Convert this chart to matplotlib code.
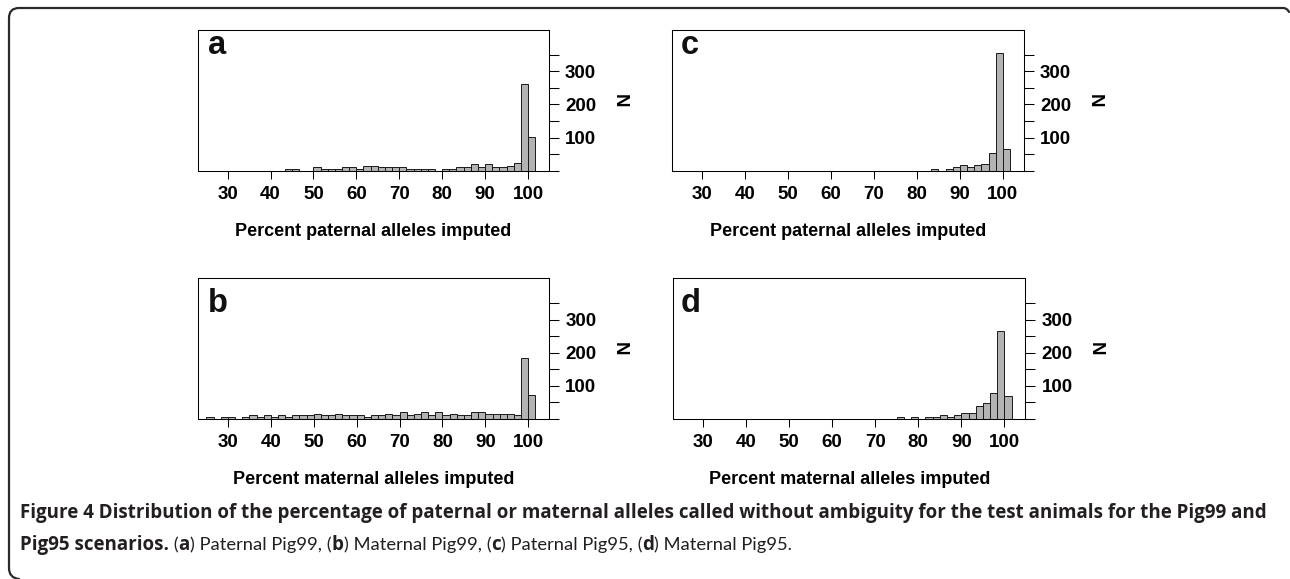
import matplotlib
matplotlib.use("Agg")
import matplotlib.pyplot as plt
import numpy as np
from matplotlib.path import Path
from matplotlib.patches import PathPatch

# ---------------- data ----------------
BIN_START = 25.0
BIN_WIDTH = 5.0 / 3.0
x_ticks = [30, 40, 50, 60, 70, 80, 90, 100]
y_ticks = [0, 50, 100, 150, 200, 250, 300, 350]
y_tick_labels = ["", "", "100", "", "200", "", "300", ""]

# counts per bin (46 bins from 25 to 101.67, width 5/3)
counts_a = [0, 0, 0, 0, 0, 0, 0, 0, 0, 0, 0, 5, 5, 0, 0, 10, 5, 5, 5, 10, 10, 5, 15,
            15, 10, 10, 10, 10, 5, 5, 5, 5, 0, 5, 5, 10, 10, 20, 10, 20, 10, 10, 15,
            24, 262, 102]
counts_b = [5, 0, 5, 5, 0, 5, 10, 5, 10, 5, 10, 5, 10, 10, 10, 15, 10, 10, 15, 10, 10,
            10, 5, 10, 10, 15, 10, 20, 10, 15, 20, 10, 20, 10, 15, 10, 10, 20, 20, 15,
            15, 15, 15, 10, 185, 73]
counts_c = [0] * 35 + [5, 0, 5, 10, 16, 10, 16, 20, 53, 357, 67]
counts_d = [0] * 30 + [5, 0, 5, 0, 5, 5, 10, 5, 10, 16, 16, 39, 49, 77, 266, 68]

letters = ["a", "c", "b", "d"]
xlabels = ["Percent paternal alleles imputed", "Percent paternal alleles imputed",
           "Percent maternal alleles imputed", "Percent maternal alleles imputed"]
ylabel = "N"

caption_line1 = ("Figure 4 Distribution of the percentage of paternal or maternal alleles "
                 "called without ambiguity for the test animals for the Pig99 and")
caption_line2 = [("Pig95 scenarios.", "bold"), (" (", "normal"), ("a", "bold"),
                 (") Paternal Pig99, (", "normal"), ("b", "bold"),
                 (") Maternal Pig99, (", "normal"), ("c", "bold"),
                 (") Paternal Pig95, (", "normal"), ("d", "bold"),
                 (") Maternal Pig95.", "normal")]

# ---------------- layout ----------------
W, H = 1290, 579
fig = plt.figure(figsize=(W / 100, H / 100), dpi=100)
fig.patch.set_facecolor("white")
FONT = ["Liberation Sans", "DejaVu Sans"]
CAP_BOLD_FONT = ["Open Sans", "DejaVu Sans"]
CAP_REG_FONT = ["Lato", "Open Sans", "DejaVu Sans"]
CAP_COLOR = "#231f20"


def fx(x):
    return x / W


def fy(y):
    return 1 - y / H


panels = [
    ((198.0, 30.0, 549.0, 170.7), counts_a, (208.0, 54.0), 236.5),
    ((672.3, 30.0, 1024.0, 170.7), counts_c, (681.0, 54.0), 236.5),
    ((198.3, 278.3, 549.3, 418.7), counts_b, (208.3, 312.0), 484.5),
    ((673.3, 278.3, 1025.5, 418.7), counts_d, (680.7, 312.0), 484.5),
]

for i, (rect, counts, lpos, xl_y) in enumerate(panels):
    l, t, r, b = rect
    ax = fig.add_axes([fx(l), fy(b), (r - l) / W, (b - t) / H])
    lefts = BIN_START + BIN_WIDTH * np.arange(len(counts))
    ax.bar(lefts, counts, width=BIN_WIDTH, align="edge", color="#b3b3b3",
           edgecolor="#1a1a1a", linewidth=0.7)
    ax.set_xlim(23.1, 104.9)
    ax.set_ylim(0, 425)
    ax.set_xticks(x_ticks)
    ax.set_xticklabels([str(v) for v in x_ticks], fontweight="bold", fontsize=13.5,
                       family=FONT)
    ax.yaxis.tick_right()
    ax.set_yticks(y_ticks)
    ax.set_yticklabels(y_tick_labels, fontweight="bold", fontsize=13.5, family=FONT)
    ax.tick_params(axis="x", direction="out", length=6, width=0.75, pad=5.0,
                   colors="black")
    ax.tick_params(axis="y", direction="out", length=7.2, width=0.75, pad=4.3,
                   right=True, left=False, labelright=True, labelleft=False)
    for s in ax.spines.values():
        s.set_linewidth(0.75)
        s.set_color("black")
    # panel letter
    fig.text(fx(lpos[0]), fy(lpos[1]), letters[i], fontsize=23.5, fontweight="bold",
             family=FONT, ha="left", va="baseline", color="#111111")
    # N label
    fig.text(fx(r + 70), fy((t + b) / 2), ylabel, fontsize=13.5, fontweight="bold",
             family=FONT, rotation=270, ha="center", va="center")
    # x label
    fig.text(fx((l + r) / 2), fy(xl_y), xlabels[i], fontsize=13, fontweight="bold",
             family=FONT, ha="center", va="baseline")

# ---------------- frame ----------------
verts = [(1289, 12), (1287, 8), (1283, 8), (19, 8), (9, 8), (9, 18),
         (9, 568), (9, 578), (19, 579)]
codes = [Path.MOVETO, Path.CURVE3, Path.CURVE3, Path.LINETO, Path.CURVE3, Path.CURVE3,
         Path.LINETO, Path.CURVE3, Path.CURVE3]
frame = PathPatch(Path([(fx(x), fy(y)) for x, y in verts], codes),
                  transform=fig.transFigure, fill=False, edgecolor="#2a2a2a",
                  linewidth=1.6, capstyle="round", joinstyle="round")
fig.add_artist(frame)

# ---------------- caption ----------------
renderer = fig.canvas.get_renderer()


def fam(weight):
    return CAP_BOLD_FONT if weight == "bold" else CAP_REG_FONT


def text_width(s, size, weight):
    t1 = fig.text(0, 0, "|" + s + "|", fontsize=size, fontweight=weight, family=fam(weight))
    t2 = fig.text(0, 0, "||", fontsize=size, fontweight=weight, family=fam(weight))
    w = t1.get_window_extent(renderer).width - t2.get_window_extent(renderer).width
    t1.remove()
    t2.remove()
    return w


base_size = 14.0
w1 = text_width(caption_line1, base_size, "bold")
cap_size = base_size * (1276 - 20) / w1

# size of the regular-weight runs so that line 2 ends near x = 790
bold_w = sum(text_width(s, cap_size, w) for s, w in caption_line2 if w == "bold")
reg_w = sum(text_width(s, cap_size, w) for s, w in caption_line2 if w != "bold")
reg_size = cap_size * (790 - 20 - bold_w) / reg_w
reg_size = min(max(reg_size, cap_size * 0.9), cap_size * 1.12)

fig.text(fx(20), fy(518), caption_line1, fontsize=cap_size, fontweight="bold",
         family=CAP_BOLD_FONT, color=CAP_COLOR, ha="left", va="baseline")
x = 20.0
for s, wgt in caption_line2:
    size = cap_size if wgt == "bold" else reg_size
    fig.text(fx(x), fy(550), s, fontsize=size, fontweight=wgt, family=fam(wgt),
             color=CAP_COLOR, ha="left", va="baseline")
    x += text_width(s, size, wgt)

fig.savefig("out.png", dpi=100, facecolor="white")
